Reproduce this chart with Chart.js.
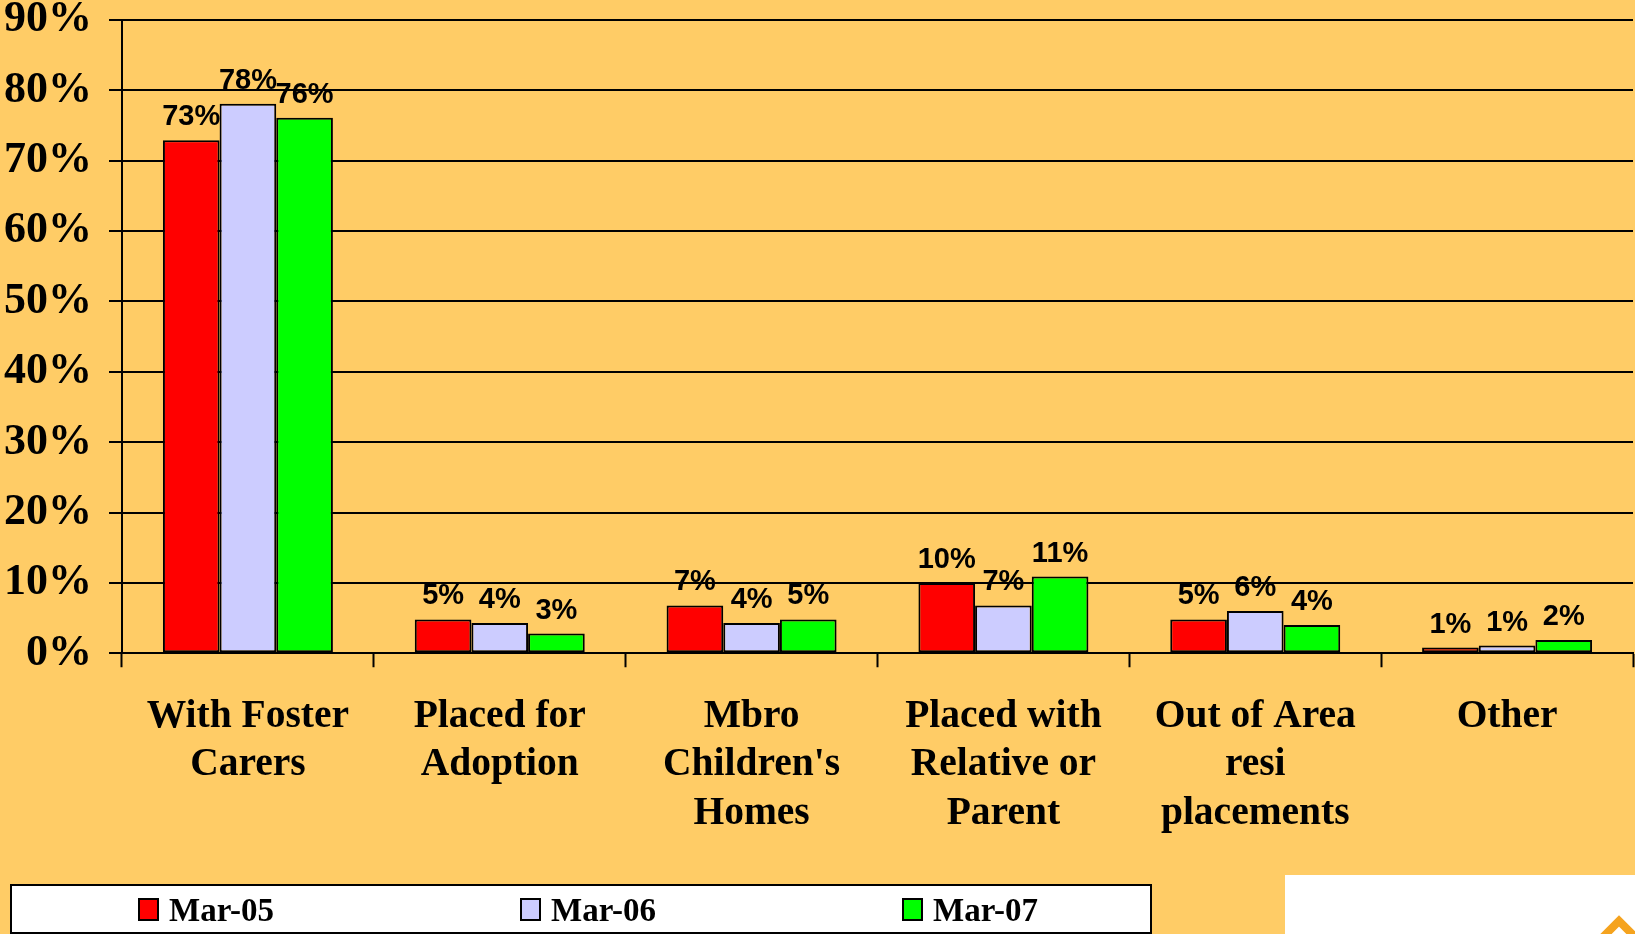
<!DOCTYPE html>
<html>
<head>
<meta charset="utf-8">
<script src="https://cdn.jsdelivr.net/npm/chart.js@4/dist/chart.umd.min.js"></script>
<style>
  html, body { margin: 0; padding: 0; background: #FFCC66; }
  #wrap { width: 1635px; height: 934px; }
</style>
</head>
<body>
<div id="wrap"><canvas id="placementsChart" width="1635" height="934"></canvas></div>
<script>
// categories (multi-line as on the slide)
const categories = [
    ['With Foster', 'Carers'],
    ['Placed for', 'Adoption'],
    ['Mbro', "Children's", 'Homes'],
    ['Placed with', 'Relative or', 'Parent'],
    ['Out of Area', 'resi', 'placements'],
    ['Other']
];

const seriesNames = ['Mar-05', 'Mar-06', 'Mar-07'];
const seriesColors = ['#FF0000', '#CCCCFF', '#00FF00'];

// percentages
const mar05 = [72.9, 4.8, 6.8, 10.0, 4.8, 0.8];
const mar06 = [78.1, 4.3, 4.3, 6.8, 6.0, 1.1];
const mar07 = [76.1, 2.8, 4.8, 10.9, 4.0, 1.9];

const yTicks = [0, 10, 20, 30, 40, 50, 60, 70, 80, 90];

const serif = "'Liberation Serif', 'Times New Roman', serif";
const sans = "'Liberation Sans', Arial, sans-serif";

// background of the whole slide
const bgPlugin = {
    id: 'bg',
    beforeDraw(chart) {
        const ctx = chart.ctx;
        ctx.save();
        ctx.fillStyle = '#FFCC66';
        ctx.fillRect(0, 0, chart.width, chart.height);
        ctx.restore();
    }
};

// value labels above each bar
const valueLabels = {
    id: 'valueLabels',
    afterDatasetsDraw(chart) {
        const ctx = chart.ctx;
        ctx.save();
        ctx.font = 'bold 29px ' + sans;
        ctx.fillStyle = '#000';
        ctx.textAlign = 'center';
        ctx.textBaseline = 'alphabetic';
        chart.data.datasets.forEach((ds, i) => {
            chart.getDatasetMeta(i).data.forEach((bar, j) => {
                ctx.fillText(Math.round(ds.data[j]) + '%', bar.x, bar.y - 15);
            });
        });
        ctx.restore();
    }
};

// boxed legend at the bottom left, plus the white corner panel
const boxLegend = {
    id: 'boxLegend',
    afterDraw(chart) {
        const ctx = chart.ctx;
        ctx.save();
        // legend frame
        ctx.fillStyle = '#fff';
        ctx.fillRect(11, 885, 1140, 48);
        ctx.strokeStyle = '#000';
        ctx.lineWidth = 2;
        ctx.strokeRect(11, 885, 1140, 48);

        ctx.font = 'bold 33px ' + serif;
        ctx.textBaseline = 'alphabetic';
        ctx.textAlign = 'left';
        chart.data.datasets.forEach((ds, i) => {
            const x = 139 + i * 382;
            ctx.fillStyle = ds.backgroundColor;
            ctx.fillRect(x, 899, 19, 21);
            ctx.lineWidth = 2;
            ctx.strokeStyle = '#000';
            ctx.strokeRect(x, 899, 19, 21);
            ctx.fillStyle = '#000';
            ctx.fillText(ds.label, x + 30, 921);
        });

        // white corner panel with the orange chevron
        ctx.fillStyle = '#fff';
        ctx.fillRect(1285, 875, 350, 59);
        ctx.strokeStyle = '#F5A31E';
        ctx.lineWidth = 8;
        ctx.beginPath();
        ctx.moveTo(1598, 942);
        ctx.lineTo(1619, 921);
        ctx.lineTo(1640, 942);
        ctx.stroke();
        ctx.restore();
    }
};

const datasets = [mar05, mar06, mar07].map((vals, i) => ({
    label: seriesNames[i],
    data: vals,
    backgroundColor: seriesColors[i],
    borderColor: '#000',
    borderWidth: 2,
    borderSkipped: false,
    barPercentage: 1.0,
    categoryPercentage: 0.675
}));

const ctx = document.getElementById('placementsChart').getContext('2d');
const chart = new Chart(ctx, {
    type: 'bar',
    data: { labels: categories, datasets: datasets },
    options: {
        responsive: false,
        animation: false,
        devicePixelRatio: 1,
        layout: { padding: { left: 0, right: 2, top: 0, bottom: 71 } },
        plugins: {
            legend: { display: false },
            tooltip: { enabled: false }
        },
        scales: {
            x: {
                grid: {
                    offset: true,
                    drawOnChartArea: false,
                    drawTicks: true,
                    tickLength: 14,
                    tickColor: '#000',
                    tickWidth: 2
                },
                border: { display: true, color: '#000', width: 2 },
                ticks: {
                    autoSkip: false,
                    maxRotation: 0,
                    minRotation: 0,
                    padding: 25,
                    color: '#000',
                    font: { family: serif, size: 39.5, weight: 'bold', lineHeight: 1.23 }
                }
            },
            y: {
                min: 0,
                max: 90,
                afterBuildTicks(axis) {
                    axis.ticks = yTicks.map(v => ({ value: v }));
                },
                afterFit(axis) {
                    // keep the axis where the slide has it
                    axis.width = 122;
                    axis.paddingTop = 20;
                },
                grid: {
                    color: '#000',
                    lineWidth: 2,
                    drawTicks: true,
                    tickLength: 13,
                    tickColor: '#000',
                    tickWidth: 2
                },
                border: { display: true, color: '#000', width: 2 },
                ticks: {
                    padding: 17,
                    color: '#000',
                    font: { family: serif, size: 44, weight: 'bold', lineHeight: 1.0 },
                    callback: v => v + '%'
                }
            }
        }
    },
    plugins: [bgPlugin, valueLabels, boxLegend]
});
</script>
</body>
</html>
